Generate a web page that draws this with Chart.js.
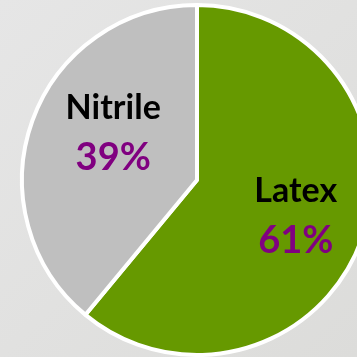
<!DOCTYPE html>
<html>
<head>
<meta charset="utf-8">
<script src="https://cdn.jsdelivr.net/npm/chart.js@4"></script>
<style>
  html, body { margin: 0; padding: 0; }
  body {
    width: 357px; height: 357px; overflow: hidden; position: relative;
    background: linear-gradient(135deg, #e6e6e6 0%, #dcdcda 100%);
  }
  #pie { position: absolute; left: 2px; top: 3px; }
</style>
</head>
<body>
<canvas id="pie" width="390" height="354"></canvas>
<script>
// -------- Data --------
const categories = ["Latex", "Nitrile"];
const shares = [61, 39];
const sliceColors = ["#669900", "#bfbfbf"];

// -------- Label plugin --------
const sliceLabels = {
  id: "sliceLabels",
  afterDatasetsDraw(chart, args, opts) {
    const ctx = chart.ctx;
    const arcs = chart.getDatasetMeta(0).data;
    arcs.forEach((arc, i) => {
      const mid = (arc.startAngle + arc.endAngle) / 2;
      const r = arc.outerRadius * opts.radial;
      const shift = opts.shift[i];
      const cx = arc.x + Math.cos(mid) * r + shift[0];
      const cy = arc.y + Math.sin(mid) * r + shift[1];

      ctx.save();
      ctx.textAlign = "center";
      ctx.textBaseline = "alphabetic";
      ctx.fillStyle = "#000000";
      ctx.font = "bold 34px Lato";
      ctx.fillText(categories[i], cx, cy - 13.5);
      ctx.fillStyle = "#800080";
      ctx.font = "bold 38px Lato";
      ctx.fillText(shares[i] + "%", cx, cy + 37.5);
      ctx.restore();
    });
  }
};

new Chart(document.getElementById("pie"), {
  type: "pie",
  data: {
    labels: categories,
    datasets: [{
      data: shares,
      backgroundColor: sliceColors,
      borderColor: "#ffffff",
      borderWidth: 4
    }]
  },
  options: {
    responsive: false,
    animation: false,
    plugins: {
      legend: { display: false },
      tooltip: { enabled: false },
      sliceLabels: { radial: 0.6, shift: [[0, 0], [15, -12]] }
    }
  },
  plugins: [sliceLabels]
});
</script>
</body>
</html>
